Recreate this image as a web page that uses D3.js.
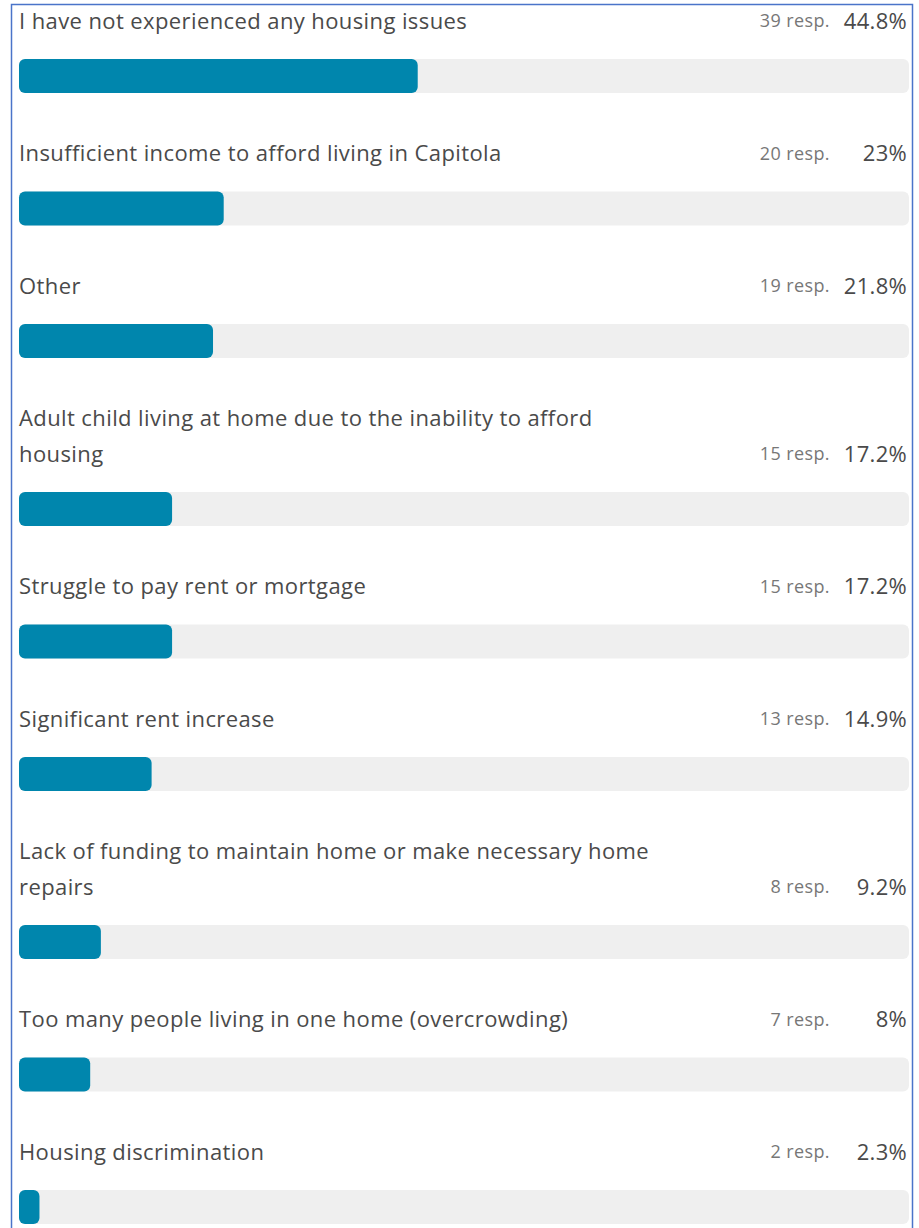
<!DOCTYPE html>
<html>
<head>
<meta charset="utf-8">
<script src="https://cdn.jsdelivr.net/npm/d3@7"></script>
<style>
  body { margin:0; background:#fff; }
  svg { display:block; }
</style>
</head>
<body>
<div id="chart"></div>
<script>
var labels = [
  "I have not experienced any housing issues",
  "Insufficient income to afford living in Capitola",
  "Other",
  "Adult child living at home due to the inability to afford housing",
  "Struggle to pay rent or mortgage",
  "Significant rent increase",
  "Lack of funding to maintain home or make necessary home repairs",
  "Too many people living in one home (overcrowding)",
  "Housing discrimination"
];
var responses = [39, 20, 19, 15, 15, 13, 8, 7, 2];
var percents = [44.8, 23, 21.8, 17.2, 17.2, 14.9, 9.2, 8, 2.3];

var W = 919, H = 1228;
var fontFam = "'Open Sans', 'Noto Sans', sans-serif";
var barH = 34;
var lineH = 35.5;
var wrapW = 650;

var svg = d3.select("#chart").append("svg")
    .attr("width", W)
    .attr("height", H);

// frame
svg.append("path")
    .attr("d", "M11.5," + H + " L11.5,4.5 L912.5,4.5 L912.5," + H)
    .attr("fill", "none")
    .attr("stroke", "#4a74c9")
    .attr("stroke-width", 1.5);

var x = d3.scaleLinear().domain([0, 100]).range([19, 909]);

function lbl(sel) {
  return sel.attr("font-family", fontFam)
    .attr("font-size", "22px")
    .attr("letter-spacing", "0.4px")
    .attr("fill", "#4a4a4a");
}

var y0 = 21; // first label line centre
labels.forEach(function(lab, i) {
  var g = svg.append("g");
  // wrap the label
  var words = lab.split(" ");
  var lines = [];
  var cur = "";
  var probe = lbl(svg.append("text"));
  words.forEach(function(w) {
    var t = cur ? cur + " " + w : w;
    probe.text(t);
    if (probe.node().getComputedTextLength() > wrapW && cur) {
      lines.push(cur);
      cur = w;
    } else {
      cur = t;
    }
  });
  lines.push(cur);
  probe.remove();

  lines.forEach(function(ln, k) {
    lbl(g.append("text"))
      .attr("x", 19)
      .attr("y", y0 + k * lineH)
      .attr("dy", "0.35em")
      .text(ln);
  });
  var lastY = y0 + (lines.length - 1) * lineH;

  g.append("text")
    .attr("x", 830)
    .attr("y", lastY)
    .attr("dy", "0.35em")
    .attr("text-anchor", "end")
    .attr("font-family", fontFam)
    .attr("font-size", "18px")
    .attr("letter-spacing", "0.4px")
    .attr("fill", "#777")
    .text(responses[i] + " resp.");

  g.append("text")
    .attr("x", 907)
    .attr("y", lastY)
    .attr("dy", "0.35em")
    .attr("text-anchor", "end")
    .attr("font-family", fontFam)
    .attr("font-size", "22px")
    .attr("letter-spacing", "0.3px")
    .attr("fill", "#4a4a4a")
    .text(percents[i] + "%");

  var by = lastY + 38;
  g.append("rect")
    .attr("x", x(0))
    .attr("y", by)
    .attr("width", x(100) - x(0))
    .attr("height", barH)
    .attr("rx", 6)
    .attr("fill", "#efefef");
  g.append("rect")
    .attr("x", x(0))
    .attr("y", by)
    .attr("width", x(percents[i]) - x(0))
    .attr("height", barH)
    .attr("rx", 6)
    .attr("fill", "#0086ad");

  y0 = by + barH + 60.5;
});
</script>
</body>
</html>
